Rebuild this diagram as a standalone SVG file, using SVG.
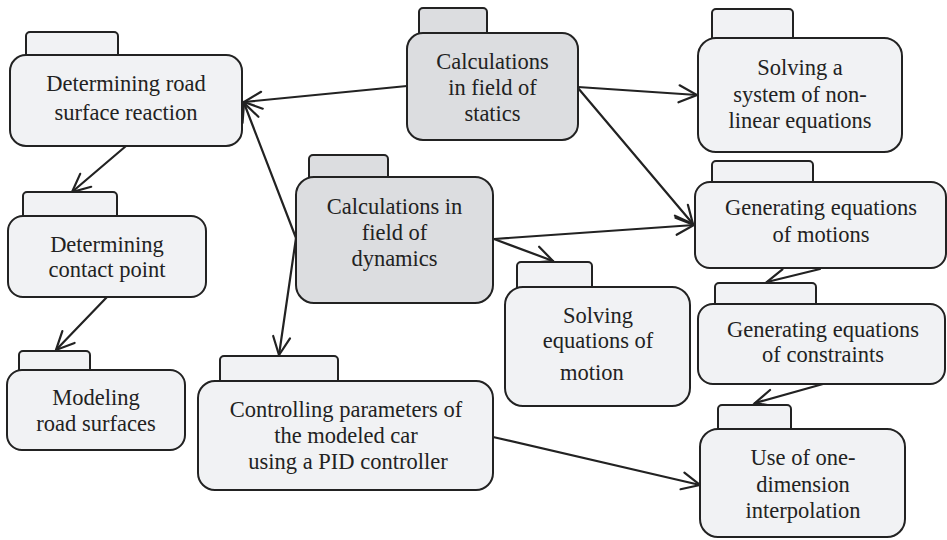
<svg xmlns="http://www.w3.org/2000/svg" width="947" height="540" viewBox="0 0 947 540">
<style>
.tab,.body{stroke:#222;stroke-width:2;}
.light{fill:#f1f2f4;}
.dark{fill:#dcdde0;}
text{font-family:'Liberation Serif','Tinos','Noto Serif','FreeSerif','DejaVu Serif',serif;font-size:22.5px;fill:#222;text-anchor:middle;}
.conn path{fill:none;stroke:#222;stroke-width:2.2;stroke-linecap:round;marker-end:url(#arr);}
</style>
<defs>
<marker id="arr" markerUnits="userSpaceOnUse" viewBox="-22 -12 24 24" markerWidth="24" markerHeight="24" refX="0" refY="0" orient="auto" overflow="visible">
<path d="M-18,-8.5 L0,0 L-18,8.5" fill="none" stroke="#222" stroke-width="2.2" stroke-linecap="round" stroke-linejoin="miter"/>
</marker>
</defs>
<rect width="947" height="540" fill="#fff"/>
<g id="connectors" class="conn">
<path d="M407,86 L244,102"/>
<path d="M296,238 L244,103"/>
<path d="M296,238 L279,355"/>
<path d="M126,146 L72,192"/>
<path d="M107,297 L56,350"/>
<path d="M578,87 L697,95"/>
<path d="M578,88 L693,224"/>
<path d="M494,239 L694,225"/>
<path d="M494,239 L553,261"/>
<path d="M820,269 L767,282"/>
<path d="M823,384 L755,403"/>
<path d="M493,437 L700,485"/>
</g>
<g id="n_road_reaction">
<rect class="tab light" x="26" y="32" width="92" height="30" rx="4"/>
<rect class="body light" x="10" y="55" width="232" height="91" rx="16"/>
<text x="126" y="91">Determining road</text>
<text x="126" y="120">surface reaction</text>
</g>
<g id="n_statics">
<rect class="tab dark" x="419" y="8" width="68" height="32" rx="4"/>
<rect class="body dark" x="407" y="33" width="171" height="107" rx="16"/>
<text x="492.5" y="69">Calculations</text>
<text x="492.5" y="95">in field of</text>
<text x="492.5" y="121">statics</text>
</g>
<g id="n_nonlinear">
<rect class="tab light" x="712" y="9" width="81" height="36" rx="4"/>
<rect class="body light" x="698" y="38" width="204" height="114" rx="18"/>
<text x="800" y="75">Solving a</text>
<text x="800" y="102">system of non-</text>
<text x="800" y="128">linear equations</text>
</g>
<g id="n_contact">
<rect class="tab light" x="23" y="192" width="94" height="30" rx="4"/>
<rect class="body light" x="8" y="216" width="198" height="81" rx="15"/>
<text x="107" y="252">Determining</text>
<text x="107" y="277">contact point</text>
</g>
<g id="n_dynamics">
<rect class="tab dark" x="309" y="155" width="79" height="30" rx="4"/>
<rect class="body dark" x="296" y="177" width="197" height="126" rx="18"/>
<text x="394.5" y="214">Calculations in</text>
<text x="394.5" y="240">field of</text>
<text x="394.5" y="266">dynamics</text>
</g>
<g id="n_solving_motion">
<rect class="tab light" x="517" y="262" width="75" height="32" rx="4"/>
<rect class="body light" x="505" y="287" width="185" height="119" rx="18"/>
<text x="598" y="323">Solving</text>
<text x="598" y="348">equations of</text>
<text x="592" y="380">motion</text>
</g>
<g id="n_gen_motions">
<rect class="tab light" x="712" y="161" width="101" height="28" rx="4"/>
<rect class="body light" x="695" y="182" width="251" height="86" rx="15"/>
<text x="821" y="215">Generating equations</text>
<text x="821" y="242">of motions</text>
</g>
<g id="n_gen_constraints">
<rect class="tab light" x="715" y="283" width="101" height="28" rx="4"/>
<rect class="body light" x="698" y="304" width="247" height="80" rx="15"/>
<text x="823" y="337">Generating equations</text>
<text x="823" y="362">of constraints</text>
</g>
<g id="n_interpolation">
<rect class="tab light" x="718" y="405" width="73" height="30" rx="4"/>
<rect class="body light" x="700" y="429" width="205" height="108" rx="18"/>
<text x="803" y="465">Use of one-</text>
<text x="803" y="492">dimension</text>
<text x="803" y="518">interpolation</text>
</g>
<g id="n_modeling">
<rect class="tab light" x="19" y="351" width="71" height="26" rx="4"/>
<rect class="body light" x="7" y="370" width="178" height="80" rx="15"/>
<text x="96" y="405">Modeling</text>
<text x="96" y="431">road surfaces</text>
</g>
<g id="n_pid">
<rect class="tab light" x="220" y="356" width="118" height="32" rx="4"/>
<rect class="body light" x="198" y="381" width="295" height="109" rx="17"/>
<text x="346" y="417">Controlling parameters of</text>
<text x="346" y="443">the modeled car</text>
<text x="348" y="469">using a PID controller</text>
</g>
</svg>
